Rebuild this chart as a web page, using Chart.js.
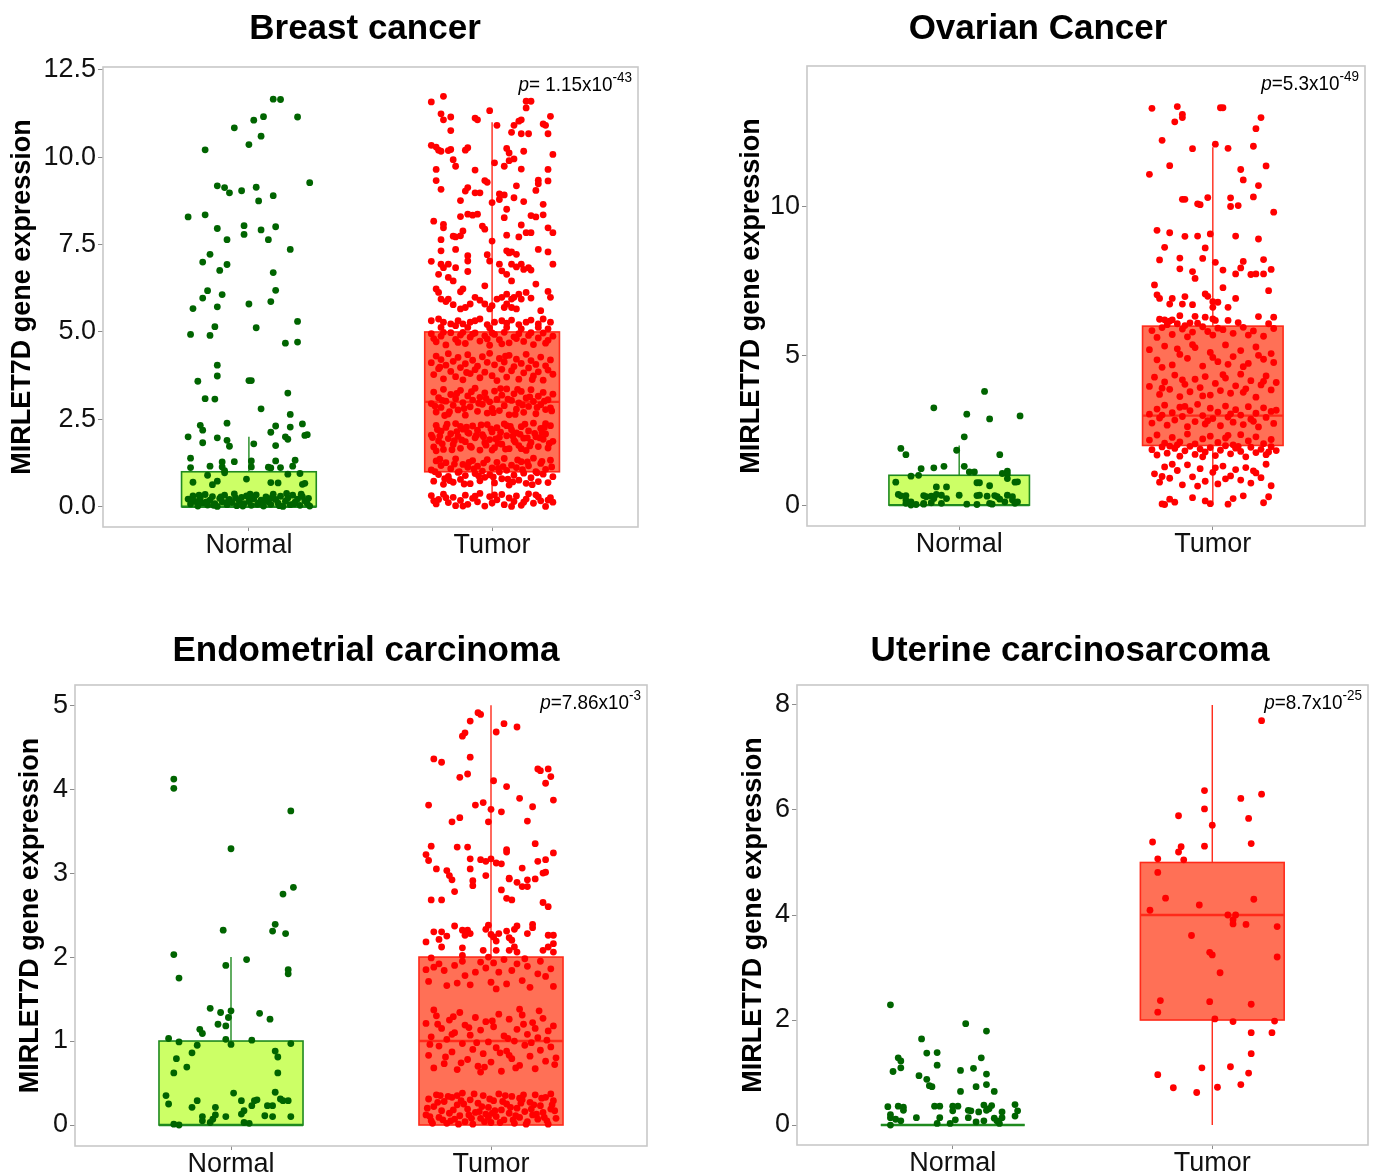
<!DOCTYPE html>
<html>
<head>
<meta charset="utf-8">
<title>MIRLET7D gene expression</title>
<script src="https://cdn.jsdelivr.net/npm/chart.js@4.4.1/dist/chart.umd.min.js"></script>
<style>
  html, body { margin: 0; padding: 0; background: #ffffff; }
  body { position: relative; width: 1379px; height: 1174px; overflow: hidden; }
  canvas { position: absolute; }
</style>
</head>
<body>
<canvas id="breastChart"></canvas>
<canvas id="ovarianChart"></canvas>
<canvas id="endoChart"></canvas>
<canvas id="uterineChart"></canvas>
<script>
// ---- data (points are [offset from group centre, expression]) ----
const groups = ['Normal', 'Tumor'];
const yAxisTitle = 'MIRLET7D gene expression';

// box stats: [lower whisker, q1, median, q3, upper whisker]
const breastNormalBox = [0, 0, 0, 1, 2];
const breastTumorBox = [0, 1, 3, 5, 11];
const ovarianNormalBox = [0, 0, 0, 1, 2];
const ovarianTumorBox = [0, 2, 3, 6, 12];
const endoNormalBox = [0, 0, 0, 1, 2];
const endoTumorBox = [0, 0, 1, 2, 5];
const uterineNormalBox = [0, 0, 0, 0, 0];
const uterineTumorBox = [0, 2, 4, 5, 8];

const breastTicks = [0, 2.5, 5, 7.5, 10, 12.5];
const breastTickLabels = ['0.0', '2.5', '5.0', '7.5', '10.0', '12.5'];
const ovarianTicks = [0, 5, 10];
const ovarianTickLabels = ['0', '5', '10'];
const endoTicks = [0, 1, 2, 3, 4, 5];
const endoTickLabels = ['0', '1', '2', '3', '4', '5'];
const uterineTicks = [0, 2, 4, 6, 8];
const uterineTickLabels = ['0', '2', '4', '6', '8'];

const breastP = ['= 1.15x10', '-43'];
const ovarianP = ['=5.3x10', '-49'];
const endoP = ['=7.86x10', '-3'];
const uterineP = ['=8.7x10', '-25'];

const breastNormal = [
  [.10,11.66],[.13,11.65],[.20,11.15],[.06,11.16],[.02,11.06],[-.06,10.84],[.05,10.60],[0,10.36],[-.18,10.21],[.25,9.27],
  [-.13,9.18],[-.10,9.13],[-.08,8.98],[-.03,9.04],[.03,9.14],[.10,8.90],[.04,8.75],[-.25,8.29],[-.18,8.35],[-.02,8.04],
  [-.02,7.79],[-.13,7.96],[.11,8.01],[.05,7.92],[-.09,7.64],[.08,7.64],[.17,7.36],[-.16,7.22],[-.19,7.00],[-.09,6.93],
  [-.12,6.76],[.10,6.70],[-.17,6.18],[.11,6.19],[-.19,5.97],[-.11,6.07],[.09,5.87],[0,5.80],[-.23,5.67],[-.13,5.72],
  [.20,5.30],[-.14,5.15],[.03,5.12],[-.24,4.93],[-.16,4.90],[.15,4.68],[.20,4.71],[-.13,4.05],[-.13,3.74],[-.21,3.59],
  [0,3.61],[.01,3.61],[.16,3.25],[-.18,3.09],[-.14,3.08],[.05,2.80],[.17,2.64],[-.20,2.33],[-.19,2.19],[-.09,2.39],
  [.22,2.37],[.11,2.31],[.17,2.28],[.09,2.13],[-.25,2.00],[-.13,1.97],[.15,2.00],[.16,1.93],[.23,2.04],[.24,2.06],
  [-.09,1.90],[-.08,1.73],[.02,1.80],[-.19,1.83],[.11,1.75],
  [-.24,1.39],[-.24,1.12],[-.16,1.16],[-.11,1.28],[-.11,1.14],[-.10,1.03],[-.10,.97],[-.06,1.29],[.01,1.31],[.01,1.14],
  [.08,1.13],[.09,1.11],[.13,1.12],[.11,1.31],[.18,1.16],[.19,1.33],[.21,.95],[.16,.93],[.22,.64],[.23,.67],
  [-.23,.70],[-.17,.90],[-.15,.63],[-.13,.73],[-.01,.79],[.09,.69],[.12,.68],
  [-.25,.22],[-.24,.08],[-.23,.31],[-.22,.15],[-.21,.02],[-.20,.26],[-.19,.11],[-.18,.35],[-.17,.05],[-.16,.19],
  [-.15,.29],[-.14,.09],[-.13,.01],[-.12,.24],[-.11,.14],[-.10,.33],[-.09,.06],[-.08,.21],[-.07,.12],[-.06,.37],
  [-.05,.03],[-.04,.17],[-.03,.27],[-.02,.09],[-.01,.31],[0,.15],[.01,.04],[.02,.23],[.03,.34],[.04,.11],
  [.05,.19],[.06,.02],[.07,.28],[.08,.14],[.09,.07],[.10,.36],[.11,.21],[.12,.10],[.13,.30],[.14,.01],
  [.15,.16],[.16,.25],[.17,.06],[.18,.33],[.19,.13],[.20,.22],[.21,.04],[.22,.29],[.23,.17],[.24,.09],
  [.25,.02],[-.235,.18],[-.205,.33],[-.175,.14],[-.145,.04],[-.115,.28],[-.085,.16],[-.055,.25],[-.025,.02],[.005,.36],
  [.035,.07],[.065,.18],[.095,.26],[.125,.03],[.155,.38],[.185,.08],[.215,.36],[.245,.24],[-.20,.12],[0,.28]
];

const breastTumor = [
  [-.25,11.58],[-.20,11.74],[-.01,11.33],[.14,11.60],[.16,11.60],[.14,11.41],[-.21,11.24],[-.20,11.07],[-.17,11.15],[-.07,11.12],
  [-.06,11.07],[.02,10.91],[.09,10.91],[.11,11.03],[.12,11.07],[.21,10.95],[.22,10.91],[.24,11.17],[-.17,10.76],[.08,10.71],
  [.12,10.67],[.15,10.67],[.23,10.67],[-.25,10.34],[-.23,10.29],[-.22,10.20],[-.21,10.17],[-.18,10.19],[-.17,10.22],[-.11,10.20],
  [-.10,10.27],[.06,10.25],[.07,10.12],[.13,10.17],[.25,10.08],[-.16,9.93],[-.15,9.74],[.01,9.84],[.05,9.74],[.07,9.90],
  [.09,9.95],[-.23,9.65],[-.07,9.63],[.12,9.66],[.23,9.65],[.19,9.34],[.23,9.32],[-.23,9.33],[-.03,9.33],[-.02,9.28],
  [-.21,9.08],[-.10,9.13],[-.11,9.03],[-.07,8.98],[-.05,8.98],[.03,8.95],[.05,8.92],[.10,9.18],[.19,9.24],[.18,9.05],
  [-.13,8.76],[.03,8.79],[.09,8.84],[0,8.70],[.13,8.73],[.21,8.65],[.06,8.51],[-.24,8.17],[-.20,8.08],[-.20,7.98],
  [-.13,8.30],[-.10,8.37],[-.08,8.34],[-.06,8.37],[.05,8.27],[.12,8.06],[.16,8.33],[.18,8.29],[.21,8.35],[.23,7.98],
  [.25,7.84],[-.04,8.03],[-.03,7.94],[-.12,7.89],[.14,7.84],[.16,7.84],[-.21,7.64],[-.16,7.74],[-.15,7.72],[-.13,7.75],
  [0,7.60],[.06,7.77],[.11,7.72],[.19,7.36],[.23,7.29],[-.21,7.32],[-.15,7.36],[.06,7.32],[.07,7.26],[.08,7.29],
  [.10,7.22],[-.02,7.21],[-.10,7.18],[-.10,7.03],[-.25,7.02],[-.21,6.94],[-.20,6.84],[-.18,6.94],[-.15,6.84],[-.10,6.73],
  [-.01,7.03],[.03,6.94],[.04,6.75],[.08,6.94],[.10,6.86],[.12,6.94],[.13,6.79],[.15,6.84],[.16,6.77],[.25,6.94],
  [-.22,6.65],[-.18,6.56],[-.16,6.46],[.06,6.65],[.08,6.46],[.18,6.37],[-.23,6.23],[-.22,6.13],[-.21,5.94],[-.19,5.87],
  [-.13,6.15],[-.12,6.23],[-.03,6.32],[-.07,5.99],[-.05,5.91],[.02,5.94],[.04,5.99],[.06,6.08],[.08,5.94],[.09,5.99],
  [.11,6.08],[.12,5.94],[.14,6.13],[.16,5.97],[.23,6.16],[.24,5.99],[-.18,5.94],[-.16,5.78],[-.13,5.66],[-.11,5.70],
  [-.09,5.80],[-.03,5.80],[-.01,5.66],[0,5.75],[.05,5.70],[.06,5.80],[.08,5.70],[.10,5.66],[.20,5.61],
  [-.25,5.32],[-.22,5.37],[-.20,5.28],[-.17,5.23],[-.14,5.32],[-.12,5.23],[-.09,5.28],[-.07,5.32],[-.05,5.37],[-.02,5.21],
  [.01,5.28],[.04,5.32],[.06,5.25],[.08,5.34],[.11,5.21],[.14,5.28],[.16,5.34],[.19,5.23],[.21,5.37],[.24,5.28],
  [-.21,5.13],[-.15,5.18],[-.10,5.13],[-.01,5.11],[.06,5.13],[.12,5.09],[.19,5.13],[.23,5.09],
  [-.25,4.95],[-.23,4.72],[-.21,4.88],[-.19,4.63],[-.17,4.98],[-.15,4.79],[-.13,4.91],[-.11,4.67],[-.09,4.85],[-.07,4.97],
  [-.05,4.74],[-.03,4.89],[-.01,4.62],[.01,4.93],[.03,4.78],[.05,4.99],[.07,4.69],[.09,4.86],[.11,4.95],[.13,4.73],
  [.15,4.90],[.17,4.64],[.19,4.83],[.21,4.97],[.23,4.76],[.25,4.88],[-.24,4.81],[-.20,4.99],[-.14,4.70],[-.08,4.94],
  [-.02,4.80],[.04,4.66],[.10,4.81],[.16,4.98],[.22,4.68],[-.12,4.99],[0,4.97],
  [-.25,4.12],[-.24,3.78],[-.23,4.31],[-.22,3.95],[-.21,4.21],[-.20,3.66],[-.19,4.05],[-.18,4.38],[-.17,3.87],[-.16,4.16],
  [-.15,3.72],[-.14,4.27],[-.13,3.98],[-.12,3.63],[-.11,4.09],[-.10,4.35],[-.09,3.81],[-.08,4.19],[-.07,3.92],[-.06,4.02],
  [-.05,3.69],[-.04,4.29],[-.03,3.85],[-.02,4.13],[-.01,4.39],[0,3.75],[.01,4.06],[.02,3.61],[.03,4.24],[.04,3.93],
  [.05,4.14],[.06,3.71],[.07,4.33],[.08,3.89],[.09,4.01],[.10,4.22],[.11,3.65],[.12,4.10],[.13,3.83],[.14,4.36],
  [.15,3.97],[.16,4.18],[.17,3.74],[.18,4.07],[.19,3.86],[.20,4.28],[.21,3.62],[.22,4.03],[.23,3.91],[.24,4.20],
  [.25,3.79],[-.215,3.99],[-.105,3.84],[.055,4.31],[.165,3.64],
  [-.25,2.95],[-.24,3.28],[-.23,2.71],[-.22,3.12],[-.21,2.84],[-.20,3.36],[-.19,3.02],[-.18,2.65],[-.17,3.21],[-.16,2.90],
  [-.15,3.09],[-.14,2.77],[-.13,3.33],[-.12,2.98],[-.11,2.62],[-.10,3.17],[-.09,2.86],[-.08,3.05],[-.07,3.39],[-.06,2.73],
  [-.05,3.13],[-.04,2.93],[-.03,3.26],[-.02,2.68],[-.01,3.00],[0,2.81],[.01,3.31],[.02,3.07],[.03,2.75],[.04,3.19],
  [.05,2.89],[.06,3.37],[.07,2.63],[.08,3.04],[.09,3.23],[.10,2.79],[.11,2.97],[.12,3.30],[.13,2.70],[.14,3.11],
  [.15,2.87],[.16,3.35],[.17,3.01],[.18,2.66],[.19,3.16],[.20,2.92],[.21,3.27],[.22,2.78],[.23,3.06],[.24,2.83],
  [.25,3.22],[-.235,2.88],[-.205,3.04],[-.175,2.72],[-.145,3.24],[-.115,2.81],[-.085,3.29],[-.055,2.96],[-.025,3.10],[.005,2.69],
  [.035,3.38],[.065,3.08],[.095,2.64],[.125,2.91],[.155,3.14],[.185,2.84],[.215,3.02],[.245,2.74],[-.195,2.61],[.105,3.36],
  [-.25,2.05],[-.24,1.71],[-.23,2.33],[-.22,1.88],[-.21,2.16],[-.20,1.64],[-.19,2.27],[-.18,1.95],[-.17,2.09],[-.16,1.78],
  [-.15,2.38],[-.14,2.01],[-.13,1.67],[-.12,2.22],[-.11,1.86],[-.10,2.12],[-.09,1.73],[-.08,2.31],[-.07,1.97],[-.06,2.19],
  [-.05,1.62],[-.04,2.06],[-.03,1.83],[-.02,2.35],[-.01,1.92],[0,2.14],[.01,1.69],[.02,2.26],[.03,1.99],[.04,1.79],
  [.05,2.37],[.06,2.03],[.07,1.66],[.08,2.20],[.09,1.90],[.10,2.11],[.11,1.75],[.12,2.29],[.13,1.96],[.14,1.61],
  [.15,2.17],[.16,1.84],[.17,2.39],[.18,2.00],[.19,1.72],[.20,2.24],[.21,1.93],[.22,2.08],[.23,1.68],[.24,2.32],
  [.25,1.87],[-.245,1.98],[-.225,2.21],[-.205,1.80],[-.185,2.36],[-.165,1.63],[-.145,2.15],[-.125,1.91],[-.105,2.28],[-.085,1.70],
  [-.065,2.04],[-.045,2.34],[-.025,1.76],[-.005,2.23],[.015,1.94],[.035,2.13],[.055,1.65],[.075,2.30],[.095,1.85],[.115,2.07],
  [.135,2.36],[.155,1.74],[.175,2.10],[.195,1.97],[.215,2.27],[.235,1.81],[-.215,2.02],[-.155,1.89],[-.095,2.10],[-.035,2.00],
  [.025,1.81],[.085,2.02],[.145,1.97],[.205,2.12],[-.13,2.30],[0,1.62],[.12,1.66],[.22,2.38],[-.23,1.60],[.06,2.32],
  [-.25,1.05],[-.24,.73],[-.23,1.31],[-.22,.92],[-.21,1.18],[-.20,.64],[-.19,1.26],[-.18,.87],[-.17,1.09],[-.16,.70],
  [-.15,1.37],[-.14,.98],[-.13,.78],[-.12,1.21],[-.11,.89],[-.10,1.13],[-.09,.66],[-.08,1.32],[-.07,.95],[-.06,1.16],
  [-.05,.74],[-.04,1.02],[-.03,.84],[-.02,1.35],[-.01,.91],[0,1.11],[.01,.68],[.02,1.27],[.03,.99],[.04,.80],
  [.05,1.38],[.06,1.04],[.07,.62],[.08,1.19],[.09,.90],[.10,1.12],[.11,.76],[.12,1.29],[.13,.96],[.14,.67],
  [.15,1.17],[.16,.83],[.17,1.39],[.18,1.00],[.19,.72],[.20,1.24],[.21,.93],[.22,1.07],[.23,.69],[.24,1.33],
  [.25,.86],[-.235,1.00],[-.195,.80],[-.155,1.22],[-.115,.65],[-.075,1.08],[-.035,1.25],[.005,.85],[.045,1.15],[.085,.71],
  [.125,1.06],[.165,.63],[.205,1.30],[.245,1.14],[-.215,1.36],[-.135,1.00],[-.055,.88],[.025,1.10],[.105,1.34],[.185,.97],
  [-.175,.75],[.065,.79],[.145,1.28],[-.095,1.27],
  [-.25,.32],[-.23,.08],[-.22,.21],[-.20,.36],[-.18,.12],[-.16,.27],[-.15,.03],[-.13,.18],[-.11,.33],[-.10,.07],
  [-.08,.24],[-.06,.14],[-.05,.38],[-.03,.02],[-.01,.29],[0,.11],[.02,.20],[.04,.35],[.05,.06],[.07,.25],
  [.09,.15],[.10,.31],[.12,.04],[.14,.22],[.15,.37],[.17,.10],[.19,.28],[.20,.17],[.22,.01],[.24,.26],
  [.25,.13],[-.24,.17],[-.19,.26],[-.12,.02],[-.07,.30],[.01,.34],[.08,.01],[.13,.13],[.18,.34],[.23,.19]
];

const ovarianNormal = [
  [.10,3.81],[-.10,3.26],[.03,3.05],[.24,2.99],[.12,2.89],[.02,2.29],[-.23,1.90],[-.21,1.69],[-.01,1.84],[.16,1.69],
  [-.15,1.22],[-.10,1.25],[-.06,1.30],[.04,1.11],[.06,1.11],[.17,1.06],[.19,1.14],[.19,1.04],[-.19,.97],[-.16,1.00],
  [.02,1.30],[-.25,.77],[-.09,.61],[-.05,.61],[.07,.75],[.08,.75],[.12,.65],[.22,.77],[.19,.89],
  [-.24,.36],[-.23,.31],[-.21,.32],[-.21,.17],[-.19,.11],[-.14,.32],[-.13,.28],[-.11,.30],[-.10,.22],[-.09,.36],
  [-.07,.33],[-.14,.03],[-.14,.06],[0,.33],[-.05,.22],[.03,.03],[.07,.02],[.07,.32],[.08,.33],[.12,.06],
  [.13,.03],[.14,.32],[.15,.28],[.16,.20],[.18,.11],[.19,.33],[.21,.28],[.21,.17],[.22,.06],[.23,.11],
  [-.21,.06],[-.19,0],[-.17,.02],[-.07,.06],[-.11,.08],[.11,.30],[.23,.78]
];

const ovarianTumor = [
  [-.24,13.30],[-.14,13.36],[-.12,13.10],[-.12,12.99],[-.15,12.85],[.03,13.32],[.04,13.32],[.19,12.99],[.17,12.62],[-.20,12.23],
  [.01,12.10],[-.08,11.95],[.06,11.96],[.16,12.03],[-.17,11.38],[.21,11.37],[.11,11.25],[-.25,11.09],[.12,10.90],[.18,10.71],
  [.16,10.33],[-.12,10.25],[-.11,10.25],[-.02,10.31],[.07,10.30],[-.06,10.10],[-.05,10.07],[.07,10.01],[.10,10.04],[.24,9.82],
  [-.22,9.21],[-.17,9.13],[-.06,9.02],[-.01,9.09],[-.11,9.01],[.09,9.02],[.18,8.92],[-.19,8.64],[-.03,8.62],[-.21,8.22],
  [-.13,8.28],[-.04,8.27],[.01,8.14],[.12,8.17],[.20,8.23],[-.13,7.92],[-.08,7.83],[-.07,7.60],[.04,7.88],[.11,7.95],
  [.09,7.75],[.15,7.73],[.17,7.75],[.20,7.75],[.23,7.90],[.04,7.29],[-.23,7.38],[.22,7.19],[-.22,7.05],[-.21,6.93],
  [-.16,6.93],[-.11,6.99],[-.03,7.08],[-.02,7.00],[.09,6.93],[0,6.82],[.02,6.80],[-.17,6.74],[-.12,6.74],[-.08,6.72],
  [.06,6.63],[0,6.63],[-.07,6.33],[-.03,6.30],[-.13,6.35],[-.21,6.23],[-.19,6.21],[-.17,6.17],[-.16,6.21],[.06,6.19],
  [.18,6.32],[.24,6.30],[-.14,6.08],[-.11,6.02],[-.09,6.11],[0,6.24],[.01,6.19],
  [-.24,5.85],[-.20,5.95],[-.16,5.72],[-.12,5.90],[-.08,5.80],[-.04,5.98],[0,5.70],[.04,5.88],[.08,5.76],[.12,5.96],
  [.16,5.84],[.20,5.66],[.24,5.92],[-.22,5.62],[-.10,5.64],[.02,5.93],[.14,5.70],[-.02,5.82],[-.18,6.05],[.22,6.08],
  [-.06,6.10],[.10,6.12],
  [-.25,5.21],[-.22,4.87],[-.19,5.33],[-.16,4.70],[-.13,5.05],[-.10,4.92],[-.07,5.28],[-.04,4.66],[-.01,5.12],[.02,4.81],
  [.05,5.37],[.08,4.98],[.11,5.18],[.14,4.75],[.17,5.30],[.20,4.89],[.23,5.08],[-.20,4.62],[-.08,5.38],[.06,4.72],
  [.18,5.02],[-.14,5.24],[0,4.95],[.12,4.64],[.24,4.78],
  [-.25,3.98],[-.23,4.29],[-.21,3.71],[-.19,4.13],[-.17,3.88],[-.15,4.36],[-.13,3.64],[-.11,4.05],[-.09,3.80],[-.07,4.22],
  [-.05,3.94],[-.03,4.31],[-.01,3.69],[.01,4.08],[.03,3.84],[.05,4.26],[.07,3.75],[.09,4.00],[.11,4.39],[.13,3.90],
  [.15,4.17],[.17,3.62],[.19,4.03],[.21,4.33],[.23,3.86],[.25,4.11],[-.20,3.92],[-.12,4.20],[-.04,3.66],[.04,4.37],
  [.12,3.78],[.20,4.15],
  [-.25,3.05],[-.24,2.75],[-.22,3.22],[-.21,2.92],[-.19,3.35],[-.18,2.68],[-.16,3.10],[-.15,2.85],[-.13,3.28],[-.12,2.97],
  [-.10,2.63],[-.09,3.17],[-.07,2.80],[-.06,3.38],[-.04,3.00],[-.03,2.72],[-.01,3.25],[0,2.90],[.02,3.12],[.03,2.66],
  [.05,3.32],[.06,2.95],[.08,2.78],[.09,3.20],[.11,3.02],[.12,2.70],[.14,3.30],[.15,2.88],[.17,3.08],[.18,2.62],
  [.20,3.26],[.21,2.94],[.23,3.14],[.24,2.74],[-.20,3.02],[-.11,3.31],[-.02,2.83],[.07,3.06],[.16,2.81],[.25,3.18],
  [-.25,2.18],[-.22,2.35],[-.19,2.08],[-.16,2.27],[-.13,2.12],[-.10,2.38],[-.07,2.05],[-.04,2.22],[-.01,2.31],[.02,2.10],
  [.05,2.25],[.08,2.02],[.11,2.36],[.14,2.15],[.17,2.29],[.20,2.06],[.23,2.20],[-.14,2.02],[.06,2.34],
  [-.24,1.86],[-.22,1.68],[-.20,1.95],[-.18,1.74],[-.15,1.90],[-.13,1.64],[-.11,1.82],[-.09,1.97],[-.07,1.70],[-.05,1.88],
  [-.03,1.78],[-.01,1.93],[.01,1.66],[.03,1.84],[.05,1.99],[.07,1.72],[.09,1.91],[.11,1.80],[.13,1.62],[.15,1.94],
  [.17,1.76],[.19,1.87],[.21,1.69],[.23,1.96],[.25,1.83],[-.17,1.98],[-.04,1.62],[.10,1.97],[.22,1.78],
  [-.23,1.05],[-.21,.77],[-.19,1.28],[-.17,.90],[-.14,1.16],[-.12,.68],[-.10,1.35],[-.08,.95],[-.05,1.22],[-.03,.80],
  [0,1.10],[.02,.71],[.04,1.31],[.07,.98],[.09,1.19],[.11,.84],[.13,1.26],[.15,.74],[.17,1.08],[.19,.92],
  [.21,1.37],[.23,.65],[-.16,1.37],[-.06,.64],[.05,.88],[.16,1.15],[-.20,.96],[.01,1.25],
  [-.20,.04],[-.19,.02],[-.15,.10],[-.08,.25],[-.03,.14],[-.01,.05],[.06,.03],[.08,.22],[.12,.31],[.20,.08],
  [-.17,.20],[.22,.28]
];

const endoNormal = [
  [-.22,4.12],[-.22,4.01],[.23,3.74],[0,3.29],[.24,2.83],[.20,2.75],[.17,2.39],[.16,2.31],[-.03,2.32],[.21,2.28],
  [-.22,2.03],[.06,1.97],[-.02,1.90],[.22,1.85],[.22,1.80],[-.20,1.75],[-.08,1.39],[-.04,1.34],[0,1.36],[.11,1.33],
  [-.01,1.28],[.15,1.26],[-.05,1.20],[-.02,1.18],[-.12,1.14],[-.11,1.09],[-.24,1.03],[-.20,.99],[-.02,1.02],[.08,1.01],
  [.23,.97],[0,.96],[-.13,.95],[.17,.88],[.18,.81],[-.15,.86],[-.21,.79],[-.17,.69],[-.22,.62],[.18,.62],
  [-.25,.35],[-.24,.25],[-.13,.29],[-.15,.21],[-.11,.10],[-.11,.05],[-.08,.03],[-.07,.07],[-.06,.21],[-.06,.12],
  [-.02,.10],[.01,.38],[.04,.29],[.05,.17],[.04,.13],[.05,.03],[.08,.23],[.09,.29],[.10,.30],[.07,.02],
  [.13,.11],[.14,.23],[.16,.23],[.16,.10],[.17,.39],[.19,.31],[.20,.29],[.22,.29],[.23,.10],[-.22,.01],[-.20,0]
];

const endoTumor = [
  [-.05,4.91],[-.04,4.89],[-.08,4.81],[.05,4.78],[.10,4.74],[.02,4.68],[-.10,4.67],[-.11,4.63],[-.08,4.38],[-.22,4.36],
  [-.19,4.32],[.18,4.24],[.19,4.22],[.22,4.24],[.23,4.15],[.21,4.07],[-.09,4.18],[-.12,4.14],[.01,4.10],[.06,4.03],
  [.11,3.89],[.24,3.87],[-.03,3.84],[-.24,3.81],[-.06,3.81],[.16,3.79],[0,3.76],[.04,3.73],[-.12,3.66],[-.15,3.61],
  [-.01,3.61],[.14,3.62],[.17,3.35],[-.23,3.32],[-.13,3.31],[-.09,3.31],[.06,3.28],[.06,3.25],[.24,3.24],[-.25,3.22],
  [-.24,3.15],[-.08,3.17],[-.04,3.16],[-.02,3.14],[0,3.17],[.02,3.12],[.18,3.14],[.21,3.16],[.20,3.00],[.21,3.01],
  [.04,3.11],[-.21,3.05],[-.08,3.05],[-.17,3.03],[-.16,2.97],[-.15,2.92],[.12,3.06],[.07,2.94],[.07,2.93],[.10,2.89],
  [.14,2.92],[.12,2.84],[.14,2.84],[-.02,2.97],[.17,2.93],[-.07,2.91],[-.07,2.85],[.04,2.80],[-.14,2.78],[-.23,2.68],
  [-.19,2.68],[.06,2.70],[.08,2.68],[.20,2.65],[.22,2.60],
  [-.01,2.38],[-.02,2.33],[-.14,2.37],[.10,2.37],[.09,2.33],[.16,2.39],[.16,2.35],[-.11,2.32],[-.09,2.32],[-.08,2.28],
  [-.10,2.26],[-.22,2.30],[-.19,2.30],[-.17,2.25],[-.20,2.21],[-.25,2.18],[0,2.27],[.01,2.24],[.03,2.28],[.06,2.31],
  [.07,2.23],[.08,2.20],[.02,2.19],[.14,2.28],[.22,2.26],[.24,2.26],[.24,2.16],[.22,2.12],
  [-.19,2.12],[-.11,2.11],[-.03,2.08],[.02,2.08],[.09,2.12],[.07,2.08],[.10,2.06],[.20,2.08],[-.11,2.02],[-.01,2.00],[.24,2.06],
  [-.25,1.85],[-.24,1.71],[-.22,1.88],[-.20,1.92],[-.18,1.84],[-.17,1.66],[-.14,1.90],[-.13,1.69],[-.11,1.95],[-.08,1.67],
  [-.06,1.82],[-.04,1.94],[-.02,1.87],[0,1.70],[.01,1.93],[.03,1.82],[.05,1.97],[.06,1.68],[.08,1.84],[.10,1.92],
  [.12,1.72],[.14,1.89],[.15,1.64],[.18,1.80],[.19,1.95],[.21,1.77],[.23,1.86],[.24,1.65],[-.10,1.78],[.13,1.98],
  [-.23,1.99],[.02,1.62],
  [-.25,1.21],[-.24,.83],[-.23,1.05],[-.22,.68],[-.21,1.30],[-.20,.94],[-.19,1.15],[-.18,.73],[-.17,1.02],[-.16,1.25],
  [-.15,.87],[-.14,1.10],[-.13,.66],[-.12,1.34],[-.11,.97],[-.10,1.19],[-.09,.78],[-.08,1.07],[-.07,.90],[-.06,1.28],
  [-.05,.70],[-.04,1.13],[-.03,.85],[-.02,1.23],[-.01,.99],[0,.75],[.01,1.17],[.02,.92],[.03,1.32],[.04,.64],
  [.05,1.06],[.06,.88],[.07,1.26],[.08,.79],[.09,1.00],[.10,1.14],[.11,.71],[.12,1.31],[.13,.95],[.14,1.08],
  [.15,.82],[.16,1.22],[.17,.67],[.18,1.04],[.19,.89],[.20,1.27],[.21,.76],[.22,1.12],[.23,.93],[.24,1.18],
  [.25,.80],[-.235,.96],[-.205,1.20],[-.175,.81],[-.145,1.29],[-.115,.74],[-.085,1.16],[-.055,.98],[-.025,.69],[.005,1.24],
  [.035,.86],[.065,1.03],[.095,.68],[.125,1.20],[.155,.98],[.185,1.36],[.215,1.01],[.245,.72],[-.15,1.08],[-.04,.63],
  [.07,.83],[.17,1.15],[-.22,1.37],[.11,1.38],
  [-.25,.12],[-.24,.31],[-.23,.05],[-.22,.22],[-.21,.36],[-.20,.09],[-.19,.17],[-.18,.28],[-.17,.02],[-.16,.14],
  [-.15,.33],[-.14,.07],[-.13,.24],[-.12,.11],[-.11,.38],[-.10,.04],[-.09,.19],[-.08,.30],[-.07,.01],[-.06,.15],
  [-.05,.26],[-.04,.08],[-.03,.35],[-.02,.13],[-.01,.21],[0,.03],[.01,.29],[.02,.10],[.03,.37],[.04,.18],
  [.05,.06],[.06,.25],[.07,.14],[.08,.34],[.09,.02],[.10,.20],[.11,.09],[.12,.30],[.13,.16],[.14,.04],
  [.15,.27],[.16,.12],[.17,.36],[.18,.07],[.19,.23],[.20,.15],[.21,.33],[.22,.01],[.23,.19],[.24,.29],
  [.25,.08],[-.245,.20],[-.225,.02],[-.205,.27],[-.185,.06],[-.165,.34],[-.145,.18],[-.125,.01],[-.105,.25],[-.085,.12],
  [-.065,.37],[-.045,.16],[-.025,.04],[-.005,.31],[.015,.17],[.035,.03],[.055,.35],[.075,.21],[.095,.11],[.115,.26],
  [.135,.01],[.155,.19],[.175,.13],[.195,.32],[.215,.05],[.235,.24],[-.235,.10],[-.195,.35],[-.155,.05],[-.115,.29],
  [-.075,.08],[-.035,.22],[.005,.14],[.045,.28],[.085,.06],[.125,.36],[.165,.24],[.205,.09],[.245,.17],[-.13,.35],
  [-.01,.09],[.11,.32],[.23,.37]
];

const uterineNormal = [
  [-.24,2.29],[.05,1.93],[.13,1.79],[-.12,1.64],[-.10,1.37],[-.06,1.38],[-.21,1.28],[-.20,1.22],[.11,1.28],[-.06,1.14],
  [-.20,1.09],[.03,1.04],[.08,1.08],[-.23,1.02],[.13,.97],[-.13,.94],[-.10,.87],[-.09,.75],[-.08,.73],[.09,.73],
  [.13,.77],[.03,.64],[.16,.64],
  [-.25,.35],[-.21,.36],[-.19,.34],[-.19,.28],[-.24,.20],[-.24,.14],[-.22,.11],[-.20,.08],[-.24,0],[-.14,.14],
  [-.07,.36],[-.05,.36],[-.06,.03],[-.05,.14],[-.01,.03],[.01,.10],[0,.36],[.02,.36],[0,.27],[.06,.28],
  [.07,.27],[.06,.14],[.09,.06],[.10,.25],[.12,.38],[.12,.08],[.13,.28],[.15,.37],[.14,.31],[.16,.13],
  [.17,.08],[.19,.25],[.19,.14],[.24,.39],[.25,.27],[.24,.17],[.18,.03]
];

const uterineTumor = [
  [.19,7.70],[-.03,6.37],[.19,6.30],[.11,6.22],[-.03,6.02],[-.13,5.89],[.14,5.84],[0,5.71],[-.23,5.39],[.15,5.36],
  [-.12,5.30],[-.03,5.31],[-.13,5.20],[-.21,5.07],[-.11,5.05],[-.21,4.81],[-.18,4.32],[.16,4.30],[-.24,4.09],[-.05,4.19],
  [.06,4.00],[.09,4.00],[.08,3.91],[.08,3.83],[.13,3.82],[.25,3.78],[-.08,3.61],[-.01,3.29],[0,3.24],[.25,3.20],
  [.03,2.90],[-.20,2.37],[-.01,2.35],[.15,2.30],[-.21,2.15],[.01,2.02],[.08,1.97],[.24,1.98],[.15,1.76],[.23,1.76],
  [.15,1.36],[-.04,1.09],[.07,1.11],[.14,.99],[-.21,.96],[.11,.77],[-.15,.71],[.02,.72],[-.06,.62]
];

// ---- styling ----
const fontFamily = '"Liberation Sans", Arial, Helvetica, sans-serif';
const pointColors = ['#006400', '#ff0000'];
const boxFills = ['#ccff66', '#ff7056'];
const boxLines = ['#1f8a1f', '#ff2a1a'];
const boxHalf = 0.277;

function toPoints(pts, centre) {
  return pts.map(([dx, y]) => ({ x: centre + dx, y: y }));
}

function makePanel(p) {
  const canvas = document.getElementById(p.id);
  canvas.width = p.w;
  canvas.height = p.h;
  canvas.style.left = p.left + 'px';
  canvas.style.top = p.top + 'px';

  // boxplot + frame + p-value, drawn through the chart scales
  const panelPlugin = {
    id: 'panel_' + p.id,
    beforeDatasetsDraw(chart) {
      const { ctx, scales: { x, y } } = chart;
      [p.normalBox, p.tumorBox].forEach((s, i) => {
        const c = i + 1;
        const [lo, q1, med, q3, hi] = s;
        const xl = x.getPixelForValue(c - boxHalf);
        const xr = x.getPixelForValue(c + boxHalf);
        const xc = x.getPixelForValue(c);
        const yt = y.getPixelForValue(q3);
        const yb = y.getPixelForValue(q1);
        ctx.save();
        ctx.strokeStyle = boxLines[i];
        ctx.lineWidth = 1.4;
        ctx.beginPath();
        ctx.moveTo(xc, y.getPixelForValue(hi));
        ctx.lineTo(xc, yt);
        ctx.moveTo(xc, yb);
        ctx.lineTo(xc, y.getPixelForValue(lo));
        ctx.stroke();
        ctx.fillStyle = boxFills[i];
        ctx.fillRect(xl, yt, xr - xl, yb - yt);
        ctx.lineWidth = 1.6;
        ctx.strokeRect(xl, yt, xr - xl, yb - yt);
        ctx.lineWidth = 2.4;
        ctx.beginPath();
        ctx.moveTo(xl, y.getPixelForValue(med));
        ctx.lineTo(xr, y.getPixelForValue(med));
        ctx.stroke();
        ctx.restore();
      });
    },
    afterDraw(chart) {
      const { ctx, chartArea: a } = chart;
      ctx.save();
      ctx.strokeStyle = '#c8c8c8';
      ctx.lineWidth = 1.6;
      ctx.strokeRect(a.left, a.top, a.right - a.left, a.bottom - a.top);

      // p-value label, right aligned in the top corner (slightly condensed)
      const squeeze = 0.9;
      const fMain = '21px ' + fontFamily;
      const fItal = 'italic 21px ' + fontFamily;
      const fSup = '15px ' + fontFamily;
      ctx.font = fItal; const wP = ctx.measureText('p').width;
      ctx.font = fMain; const wM = ctx.measureText(p.pText[0]).width;
      ctx.font = fSup; const wS = ctx.measureText(p.pText[1]).width;
      const startX = a.right - 6 - (wP + wM + wS) * squeeze;
      const base = a.top + 24;
      ctx.translate(startX, base);
      ctx.scale(squeeze, 1);
      ctx.fillStyle = '#000000';
      ctx.textBaseline = 'alphabetic';
      ctx.textAlign = 'left';
      let xx = 0;
      ctx.font = fItal; ctx.fillText('p', xx, 0); xx += wP;
      ctx.font = fMain; ctx.fillText(p.pText[0], xx, 0); xx += wM;
      ctx.font = fSup; ctx.fillText(p.pText[1], xx, -9);
      ctx.restore();
    }
  };

  return new Chart(canvas, {
    type: 'scatter',
    data: {
      datasets: [
        {
          label: groups[0],
          data: toPoints(p.normal, 1),
          backgroundColor: pointColors[0],
          pointRadius: 3.4,
          pointBorderWidth: 0
        },
        {
          label: groups[1],
          data: toPoints(p.tumor, 2),
          backgroundColor: pointColors[1],
          pointRadius: 3.4,
          pointBorderWidth: 0
        }
      ]
    },
    options: {
      responsive: false,
      animation: false,
      devicePixelRatio: 1,
      layout: { padding: 0 },
      plugins: {
        legend: { display: false },
        tooltip: { enabled: false },
        title: {
          display: true,
          text: p.title,
          color: '#000000',
          font: { family: fontFamily, size: 35, weight: 'bold', lineHeight: 1.2 },
          padding: { top: p.titleTop, bottom: p.titleBottom }
        }
      },
      scales: {
        x: {
          type: 'linear',
          min: 0.4,
          max: 2.6,
          afterBuildTicks: s => { s.ticks = [1, 2].map(v => ({ value: v })); },
          afterFit: s => { s.height = p.xh; },
          ticks: {
            callback: v => groups[v - 1],
            color: '#111111',
            padding: 1,
            maxRotation: 0,
            font: { family: fontFamily, size: 27, lineHeight: 1 }
          },
          grid: { drawOnChartArea: false, tickLength: 4, color: '#8c8c8c' },
          border: { display: false }
        },
        y: {
          min: p.yMin,
          max: p.yMax,
          afterBuildTicks: s => { s.ticks = p.ticks.map(v => ({ value: v })); },
          afterFit: s => { s.width = p.yw; },
          ticks: {
            callback: (v, i) => p.tickLabels[i],
            color: '#111111',
            padding: 2,
            font: { family: fontFamily, size: 27, lineHeight: 1 }
          },
          grid: { drawOnChartArea: false, tickLength: 5, color: '#8c8c8c' },
          border: { display: false },
          title: {
            display: true,
            text: yAxisTitle,
            color: '#000000',
            font: { family: fontFamily, size: 27, weight: 'bold', lineHeight: 1.2 },
            padding: { top: p.yTitlePad, bottom: 0 }
          }
        },
        pad: {
          type: 'linear',
          position: 'right',
          display: true,
          afterFit: s => { s.width = p.padW; },
          ticks: { display: false },
          grid: { display: false },
          border: { display: false }
        }
      }
    },
    plugins: [panelPlugin]
  });
}

makePanel({
  id: 'breastChart', title: 'Breast cancer', left: 0, top: 0, w: 730, h: 590,
  yw: 103, padW: 92, xh: 63, titleTop: 8, titleBottom: 17, yTitlePad: 6,
  yMin: -0.58, yMax: 12.58, ticks: breastTicks, tickLabels: breastTickLabels,
  normal: breastNormal, tumor: breastTumor, normalBox: breastNormalBox, tumorBox: breastTumorBox, pText: breastP
});
makePanel({
  id: 'ovarianChart', title: 'Ovarian Cancer', left: 697, top: 0, w: 682, h: 590,
  yw: 110, padW: 14, xh: 64, titleTop: 8, titleBottom: 16, yTitlePad: 38,
  yMin: -0.7, yMax: 14.72, ticks: ovarianTicks, tickLabels: ovarianTickLabels,
  normal: ovarianNormal, tumor: ovarianTumor, normalBox: ovarianNormalBox, tumorBox: ovarianTumorBox, pText: ovarianP
});
makePanel({
  id: 'endoChart', title: 'Endometrial carcinoma', left: 0, top: 620, w: 732, h: 554,
  yw: 75, padW: 85, xh: 28, titleTop: 10, titleBottom: 13, yTitlePad: 14,
  yMin: -0.25, yMax: 5.24, ticks: endoTicks, tickLabels: endoTickLabels,
  normal: endoNormal, tumor: endoTumor, normalBox: endoNormalBox, tumorBox: endoTumorBox, pText: endoP
});
makePanel({
  id: 'uterineChart', title: 'Uterine carcinosarcoma', left: 736, top: 620, w: 668, h: 554,
  yw: 61, padW: 36, xh: 29, titleTop: 10, titleBottom: 13, yTitlePad: 1,
  yMin: -0.38, yMax: 8.38, ticks: uterineTicks, tickLabels: uterineTickLabels,
  normal: uterineNormal, tumor: uterineTumor, normalBox: uterineNormalBox, tumorBox: uterineTumorBox, pText: uterineP
});
</script>
</body>
</html>
